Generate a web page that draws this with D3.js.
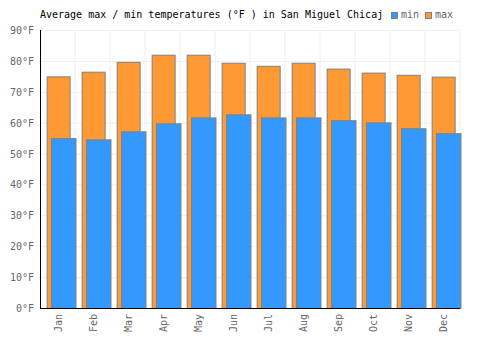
<!DOCTYPE html>
<html><head><meta charset="utf-8">
<script src="https://cdn.jsdelivr.net/npm/d3@7"></script>
<style>body{margin:0;background:#fff}svg{display:block}</style>
</head><body>
<svg id="c" width="500" height="350"></svg>
<script>
const months = ["Jan","Feb","Mar","Apr","May","Jun","Jul","Aug","Sep","Oct","Nov","Dec"];
const maxTemps = [75, 76.5, 79.7, 82, 82, 79.4, 78.4, 79.4, 77.5, 76.2, 75.5, 74.9];
const minTemps = [55, 54.6, 57.2, 59.8, 61.7, 62.7, 61.7, 61.7, 60.8, 60.1, 58.2, 56.6];
const yTicks = [0,10,20,30,40,50,60,70,80,90];

const svg = d3.select("#c");
const font = "'DejaVu Sans Mono', monospace";
const L = 40, R = 460, T = 30, B = 308;
const x = d3.scaleBand().domain(months).range([L, R]);
const y = d3.scaleLinear().domain([0, 90]).range([B, T]);
const bw = x.bandwidth();

// grid
svg.append("g").selectAll("line.v").data(months).join("line")
  .attr("x1", d => x(d) + bw).attr("x2", d => x(d) + bw)
  .attr("y1", T).attr("y2", B).attr("stroke", "#eeeeee").attr("stroke-width", 1);
svg.append("g").selectAll("line.h").data(yTicks).join("line")
  .attr("x1", L).attr("x2", R).attr("y1", d => y(d) + 0.5).attr("y2", d => y(d) + 0.5)
  .attr("stroke", "#eeeeee").attr("stroke-width", 1);

// max bars
svg.append("g").selectAll("rect").data(maxTemps).join("rect")
  .attr("x", (d, i) => x(months[i]) + bw * 0.19 + 0.5)
  .attr("width", bw * 0.657)
  .attr("y", d => y(d) + 0.5)
  .attr("height", d => B - y(d))
  .attr("fill", "#ff9933").attr("stroke", "#808080").attr("stroke-width", 1);
// min bars
svg.append("g").selectAll("rect").data(minTemps).join("rect")
  .attr("x", (d, i) => x(months[i]) + bw * 0.314 + 0.5)
  .attr("width", bw * 0.7)
  .attr("y", d => y(d) + 0.5)
  .attr("height", d => B - y(d))
  .attr("fill", "#3399ff").attr("stroke", "#808080").attr("stroke-width", 1);

// axes lines
svg.append("line").attr("x1", L + 0.5).attr("x2", L + 0.5).attr("y1", T).attr("y2", B + 0.5)
  .attr("stroke", "#000").attr("stroke-width", 1);
svg.append("line").attr("x1", L).attr("x2", R).attr("y1", B + 0.5).attr("y2", B + 0.5)
  .attr("stroke", "#000").attr("stroke-width", 1);

// y labels
svg.append("g").selectAll("text").data(yTicks).join("text")
  .attr("x", 34).attr("y", d => y(d) + 4)
  .attr("text-anchor", "end").attr("font-family", font).attr("font-size", 10)
  .attr("fill", "#666").text(d => d + "°F");

// x labels
svg.append("g").selectAll("text").data(months).join("text")
  .attr("transform", d => `translate(${x(d) + bw / 2 + 4},${B + 6}) rotate(-90)`)
  .attr("text-anchor", "end").attr("font-family", font).attr("font-size", 10)
  .attr("fill", "#666").text(d => d);

// title
svg.append("text").attr("x", 40).attr("y", 18).attr("font-family", font).attr("font-size", 10)
  .attr("fill", "#000").text("Average max / min temperatures (°F ) in San Miguel Chicaj");

// legend
const legend = [{k:"min", c:"#3399ff", x:391},{k:"max", c:"#ff9933", x:425}];
const lg = svg.append("g").selectAll("g").data(legend).join("g");
lg.append("rect").attr("x", d => d.x + 0.5).attr("y", 12.5).attr("width", 6).attr("height", 6)
  .attr("fill", d => d.c).attr("stroke", "#808080");
lg.append("text").attr("x", d => d.x + 10).attr("y", 18).attr("font-family", font).attr("font-size", 10)
  .attr("fill", "#666").text(d => d.k);
</script>
</body></html>
